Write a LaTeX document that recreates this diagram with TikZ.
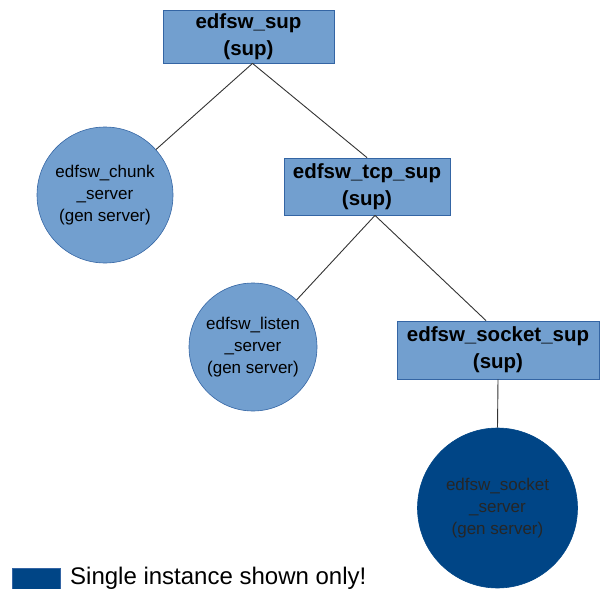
\documentclass[tikz,border=0pt]{standalone}
\usepackage{fontspec}
\setmainfont{Liberation Sans}
\definecolor{lightblue}{HTML}{729FCF}
\definecolor{borderblue}{HTML}{3465A4}
\definecolor{darkblue}{HTML}{004586}
\definecolor{linegray}{HTML}{333333}
\begin{document}
\begin{tikzpicture}[x=1pt,y=-1pt,
  supbox/.style={draw=borderblue,fill=lightblue,line width=0.8pt,inner sep=0pt,
    align=center,font=\fontsize{20.5}{27}\selectfont\bfseries},
  genserver/.style={circle,draw=borderblue,fill=lightblue,line width=0.6pt,inner sep=0pt,
    align=center,font=\fontsize{17}{22}\selectfont},
  single/.style={genserver,draw=darkblue,fill=darkblue,text=black!85},
  link/.style={draw=linegray,line width=0.9pt}]
\useasboundingbox (0,0) rectangle (600,589);
\node[supbox,minimum width=171pt,minimum height=53pt] (top) at (248.5,36.5) {edfsw\_sup\\(sup)};
\node[supbox,minimum width=166pt,minimum height=57pt] (tcp) at (367,186.5) {edfsw\_tcp\_sup\\(sup)};
\node[supbox,minimum width=202pt,minimum height=58pt] (sock) at (498,350) {edfsw\_socket\_sup\\(sup)};
\node[genserver,minimum size=136pt] (chunk) at (105,195) {edfsw\_chunk\\\_server\\(gen server)};
\node[genserver,minimum size=128pt] (listen) at (253,347) {edfsw\_listen\\\_server\\(gen server)};
\node[single,minimum size=160pt] (sserv) at (497.5,508) {edfsw\_socket\\\_server\\(gen server)};
\coordinate (topapex) at ([xshift=4pt]top.south);
\coordinate (tcpapex) at ([xshift=8pt]tcp.south);
\coordinate (sockin) at ([xshift=-12pt]sock.north);
\draw[link] (topapex) -- (chunk);
\draw[link] (topapex) -- (tcp.north);
\draw[link] (tcpapex) -- (listen);
\draw[link] (tcpapex) -- (sockin);
\draw[link] (sock.south) -- (sserv.north);
\node[draw=borderblue,fill=darkblue,minimum width=48pt,minimum height=24pt,inner sep=0pt,anchor=north west] (legbox) at (12,568) {};
\node[anchor=west,inner sep=0pt,font=\fontsize{24}{28}\selectfont] (legtext) at (70,578) {Single instance shown only!};
\end{tikzpicture}
\end{document}
